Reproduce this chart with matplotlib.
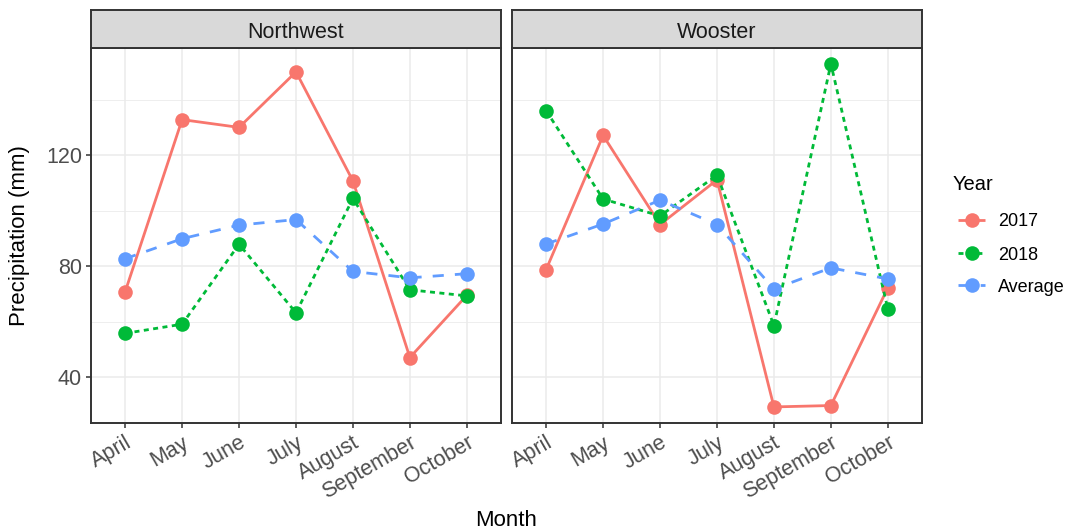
import matplotlib
matplotlib.use("Agg")
import matplotlib.pyplot as plt
from matplotlib.lines import Line2D
from matplotlib.ticker import FixedLocator

plt.rcParams['font.family'] = ['Liberation Sans', 'DejaVu Sans']

months = ["April", "May", "June", "July", "August", "September", "October"]
sites = ["Northwest", "Wooster"]
series_names = ["2017", "2018", "Average"]

northwest_2017 = [70.9, 132.9, 130.1, 150.1, 110.8, 47.2, 69.6]
northwest_2018 = [55.9, 59.2, 88.0, 63.3, 104.5, 71.6, 69.4]
northwest_avg = [82.8, 90.0, 94.9, 96.9, 78.2, 75.9, 77.4]

wooster_2017 = [78.9, 127.2, 95.1, 111.2, 29.4, 29.9, 72.3]
wooster_2018 = [136.1, 104.3, 98.2, 112.9, 58.7, 153.0, 64.7]
wooster_avg = [88.1, 95.3, 103.9, 95.1, 71.9, 79.5, 75.5]

site_data = {
    "Northwest": [northwest_2017, northwest_2018, northwest_avg],
    "Wooster": [wooster_2017, wooster_2018, wooster_avg],
}

colors = ["#F8766D", "#00BA38", "#619CFF"]
dashes = [None, (1.8, 1.6), (4, 4)]

W, H = 1071, 531
fig = plt.figure(figsize=(W / 100, H / 100), dpi=100)

panel_top = 48
panel_bottom = 423.3
strip_top = 10
panel_lr = [(91, 501), (512, 922)]

border = "#333333"
grid_c = "#EBEBEB"

for i, site in enumerate(sites):
    l, r = panel_lr[i]
    ax = fig.add_axes([l / W, 1 - panel_bottom / H, (r - l) / W, (panel_bottom - panel_top) / H])
    x = list(range(len(months)))
    for vals, c, d in zip(site_data[site], colors, dashes):
        ln, = ax.plot(x, vals, color=c, lw=2.0, marker='o', markersize=10.5,
                      markeredgewidth=0, zorder=3, solid_capstyle='butt', dash_capstyle='butt')
        if d is not None:
            ln.set_dashes(d)
    ax.set_xlim(-0.6, len(months) - 0.4)
    ax.set_ylim(23.5, 158.7)
    ax.yaxis.set_major_locator(FixedLocator([40, 80, 120]))
    ax.yaxis.set_minor_locator(FixedLocator([60, 100, 140]))
    ax.set_xticks(x)
    ax.set_xticklabels(months, rotation=30, ha='right', rotation_mode='anchor',
                       fontsize=15.5, color="#4D4D4D")
    ax.grid(which='major', color=grid_c, lw=1.1, zorder=0)
    ax.grid(which='minor', axis='y', color=grid_c, lw=0.6, zorder=0)
    ax.set_axisbelow(True)
    ax.tick_params(which='major', length=3.5, width=1.1, color=border, pad=3)
    ax.tick_params(which='minor', length=0)
    ax.tick_params(axis='y', labelsize=15.5, labelcolor="#4D4D4D")
    if i > 0:
        ax.tick_params(axis='y', left=False, labelleft=False)
    for s in ax.spines.values():
        s.set_color(border)
        s.set_linewidth(1.4)
    # facet strip
    strip = fig.add_axes([l / W, 1 - panel_top / H, (r - l) / W, (panel_top - strip_top) / H])
    strip.set_xticks([])
    strip.set_yticks([])
    strip.set_facecolor("#D9D9D9")
    for s in strip.spines.values():
        s.set_color(border)
        s.set_linewidth(1.4)
    strip.text(0.5, 0.47, site, ha='center', va='center_baseline', fontsize=15.5,
               color="#1A1A1A", transform=strip.transAxes)

fig.text(20 / W, 1 - 236 / H, "Precipitation (mm)", rotation=90, ha='center', va='center',
         fontsize=16)
fig.text(506.5 / W, 1 - 520 / H, "Month", ha='center', va='center', fontsize=16)

# legend, laid out in pixel positions on the figure
fig.text(953 / W, 1 - 183 / H, "Year", ha='left', va='center_baseline', fontsize=14.5)
key_y = [220, 253, 285]
for name, c, d, yy in zip(series_names, colors, dashes, key_y):
    yf = 1 - yy / H
    seg = Line2D([958 / W, 985 / W], [yf, yf], transform=fig.transFigure, color=c, lw=2.0,
                 solid_capstyle='butt', dash_capstyle='butt')
    if d is not None:
        seg.set_dashes(d)
    fig.add_artist(seg)
    fig.add_artist(Line2D([971.5 / W], [yf], transform=fig.transFigure, color=c,
                          marker='o', markersize=10.5, markeredgewidth=0, linestyle='none'))
    fig.text(998 / W, yf, name, ha='left', va='center_baseline', fontsize=13)

fig.savefig("out.png", dpi=100, facecolor="white")
